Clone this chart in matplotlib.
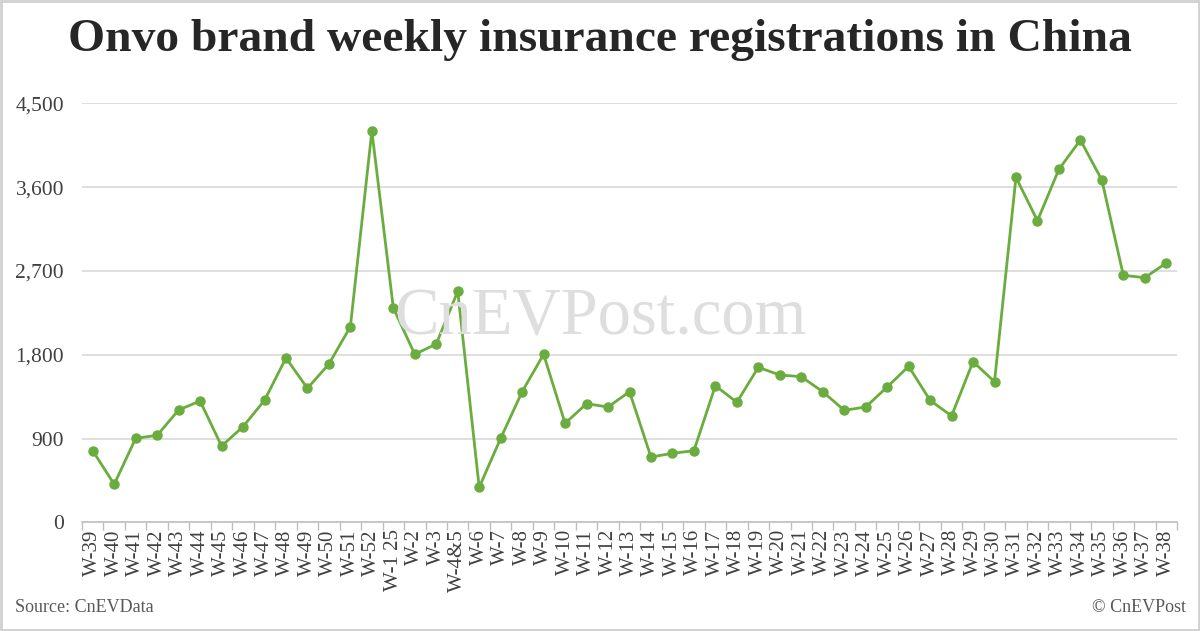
import matplotlib.pyplot as plt
from matplotlib.patches import Rectangle

weeks = ['W-39', 'W-40', 'W-41', 'W-42', 'W-43', 'W-44', 'W-45', 'W-46', 'W-47',
         'W-48', 'W-49', 'W-50', 'W-51', 'W-52', 'W-1 25', 'W-2', 'W-3', 'W-4&5',
         'W-6', 'W-7', 'W-8', 'W-9', 'W-10', 'W-11', 'W-12', 'W-13', 'W-14',
         'W-15', 'W-16', 'W-17', 'W-18', 'W-19', 'W-20', 'W-21', 'W-22', 'W-23',
         'W-24', 'W-25', 'W-26', 'W-27', 'W-28', 'W-29', 'W-30', 'W-31', 'W-32',
         'W-33', 'W-34', 'W-35', 'W-36', 'W-37', 'W-38']
registrations = [769, 408, 902, 934, 1206, 1303, 819, 1027, 1310,
                 1765, 1439, 1700, 2101, 4203, 2302, 1804, 1915, 2481,
                 376, 902, 1403, 1804, 1063, 1274, 1238, 1403, 701,
                 741, 769, 1467, 1289, 1665, 1582, 1564, 1403, 1203,
                 1238, 1453, 1675, 1310, 1142, 1725, 1510, 3705, 3239,
                 3791, 4106, 3676, 2653, 2627, 2785]
y_ticks = [0, 900, 1800, 2700, 3600, 4500]

plt.rcParams['font.family'] = ['Liberation Serif', 'DejaVu Serif']

fig = plt.figure(figsize=(12, 6.31), dpi=100)
ax = fig.add_axes([82 / 1200, 1 - 522.3 / 631, (1177 - 82) / 1200, (522.3 - 103.3) / 631])

x = list(range(len(weeks)))
ax.plot(x, registrations, color='#6aad3e', linewidth=2.0, marker='o',
        markersize=6.5, zorder=3)

ax.set_xlim(-0.5, len(weeks) - 0.5)
ax.set_ylim(0, 4500)
ax.set_yticks(y_ticks)
ax.set_yticklabels([f'{v:,}' for v in y_ticks], fontsize=15.5, color='#404040')
ax.yaxis.grid(True, color='#d9d9d9', linewidth=1.2)
ax.set_axisbelow(True)
ax.tick_params(axis='y', length=0, pad=13)

ax.set_xticks(x)
ax.set_xticklabels(weeks, rotation=90, fontsize=15, color='#404040')
ax.set_xticks([i - 0.5 for i in range(len(weeks) + 1)], minor=True)
ax.tick_params(axis='x', which='major', length=0, pad=5)
ax.tick_params(axis='x', which='minor', length=6, color='#bfbfbf', width=1)

for side in ['top', 'right', 'left']:
    ax.spines[side].set_visible(False)
ax.spines['bottom'].set_color('#bfbfbf')
ax.spines['bottom'].set_linewidth(1.2)

fig.text(0.5, 1 - 40 / 631, 'Onvo brand weekly insurance registrations in China',
         ha='center', va='center', fontsize=34.2, fontweight='bold', color='#262626')
fig.text(600 / 1200, 1 - 318 / 631, 'CnEVPost.com', ha='center', va='center',
         fontsize=48, color='#dedede', zorder=0)
fig.text(15 / 1200, 1 - 607 / 631, 'Source: CnEVData', ha='left', va='center',
         fontsize=13, color='#595959')
fig.text(1186 / 1200, 1 - 607 / 631, '© CnEVPost', ha='right', va='center',
         fontsize=13, color='#595959')

fig.patches.append(Rectangle((0.001, 0.002), 0.998, 0.996, transform=fig.transFigure,
                             fill=False, edgecolor='#d0d0d0', linewidth=2))

fig.savefig('out.png', dpi=100)
